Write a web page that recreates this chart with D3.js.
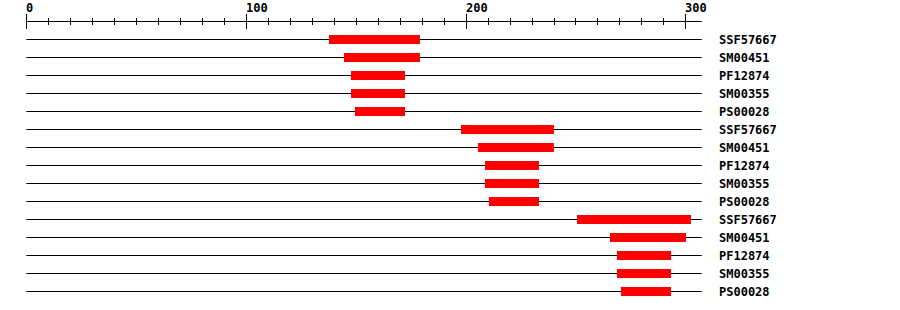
<!DOCTYPE html>
<html>
<head>
<meta charset="utf-8">
<script src="https://cdnjs.cloudflare.com/ajax/libs/d3/7.8.5/d3.min.js"></script>
<style>
body { margin: 0; background: #fff; }
text { font-family: "DejaVu Sans Mono", "Liberation Mono", monospace; font-weight: bold; font-size: 12px; fill: #000; }
</style>
</head>
<body>
<div id="divId"></div>
<script>
var seqLength = 307.5;

var names = ["SSF57667", "SM00451", "PF12874", "SM00355", "PS00028",
             "SSF57667", "SM00451", "PF12874", "SM00355", "PS00028",
             "SSF57667", "SM00451", "PF12874", "SM00355", "PS00028"];

var starts = [137.8, 144.6, 147.8, 147.8, 149.6,
              197.9, 205.6, 208.8, 208.8, 210.6,
              250.7, 265.7, 268.9, 268.9, 270.7];

var ends = [179.2, 179.2, 172.4, 172.4, 172.4,
            240.2, 240.2, 233.4, 233.4, 233.4,
            302.6, 300.3, 293.5, 293.5, 293.5];

var majorTicks = [0, 100, 200, 300];
var minorTicks = d3.range(0, 301, 10);

var width = 900;
var height = 310;
var rowTop = 39.5;
var rowStep = 18;
var barHeight = 9;
var axisY = 21.5;

var x = d3.scaleLinear().domain([0, 300]).range([26.3, 685.3]);

var y = d3.scaleLinear().domain([0, 1]).range([rowTop, rowTop + rowStep]);

var data = names.map(function (n, i) {
    return { name: n, row: i, start: starts[i], end: ends[i] };
});

var chart = d3.select("#divId")
    .append("svg")
    .attr("width", width)
    .attr("height", height);

// ruler across the top
chart.append("line")
    .attr("x1", x(0))
    .attr("x2", x(seqLength))
    .attr("y1", axisY)
    .attr("y2", axisY)
    .attr("stroke", "#000");

chart.selectAll("line.minor")
    .data(minorTicks)
    .enter().append("line")
    .attr("class", "minor")
    .attr("x1", function (d) { return Math.round(x(d)) + 0.5; })
    .attr("x2", function (d) { return Math.round(x(d)) + 0.5; })
    .attr("y1", function (d) { return majorTicks.indexOf(d) >= 0 ? 14 : 18; })
    .attr("y2", function (d) { return majorTicks.indexOf(d) >= 0 ? 29 : 25; })
    .attr("stroke", "#000");

chart.selectAll("text.tick")
    .data(majorTicks)
    .enter().append("text")
    .attr("class", "tick")
    .attr("x", function (d) { return Math.round(x(d)); })
    .attr("y", 12)
    .attr("text-anchor", "start")
    .text(String);

// one row per domain hit
chart.selectAll("line.row")
    .data(data)
    .enter().append("line")
    .attr("class", "row")
    .attr("x1", x(0))
    .attr("x2", x(seqLength))
    .attr("y1", function (d) { return y(d.row); })
    .attr("y2", function (d) { return y(d.row); })
    .attr("stroke", "#000");

chart.selectAll("rect")
    .data(data)
    .enter().append("rect")
    .attr("x", function (d) { return x(d.start); })
    .attr("y", function (d) { return y(d.row) - barHeight / 2; })
    .attr("width", function (d) { return x(d.end) - x(d.start); })
    .attr("height", barHeight)
    .attr("fill", "#ff0000");

chart.selectAll("text.name")
    .data(data)
    .enter().append("text")
    .attr("class", "name")
    .attr("x", 719)
    .attr("y", function (d) { return y(d.row) + 4; })
    .text(function (d) { return d.name; });
</script>
</body>
</html>
